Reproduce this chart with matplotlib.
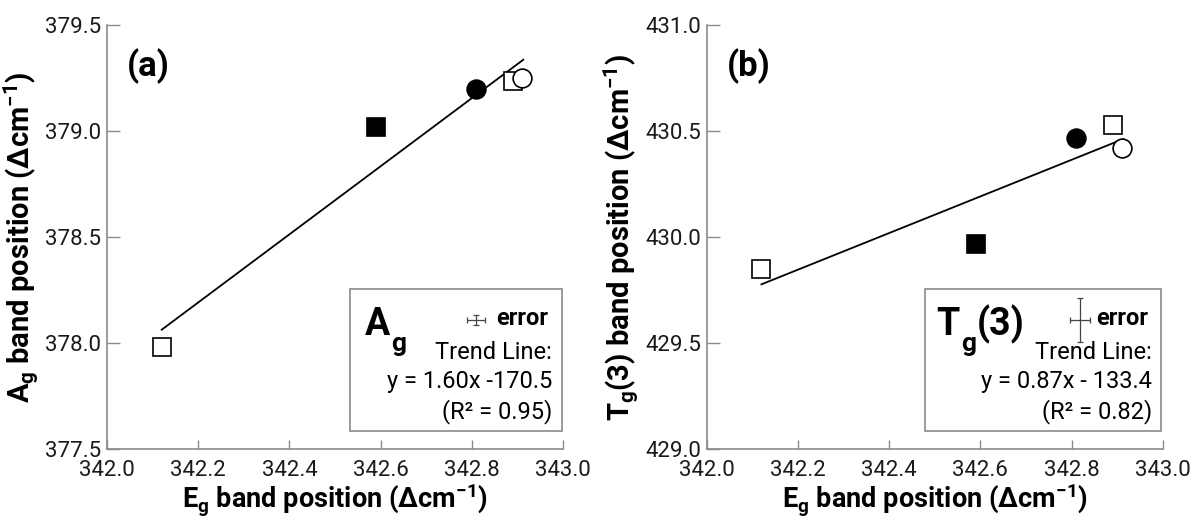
import numpy as np
import matplotlib
matplotlib.use('Agg')
import matplotlib.pyplot as plt
from matplotlib.patches import Rectangle

plt.rcParams['font.family'] = ['Roboto', 'DejaVu Sans']
plt.rcParams['mathtext.fontset'] = 'custom'
plt.rcParams['mathtext.rm'] = 'Roboto'
plt.rcParams['mathtext.bf'] = 'Roboto:bold'
plt.rcParams['mathtext.it'] = 'Roboto:italic'

# band positions (cm-1), one entry per sample
eg = [342.12, 342.59, 342.81, 342.89, 342.91]
ag = [377.98, 379.02, 379.20, 379.24, 379.25]
tg3 = [429.85, 429.97, 430.47, 430.53, 430.42]
markers = ['s', 's', 'o', 's', 'o']
filled = [False, True, True, False, False]

# error glyph shown in the boxes (centre, x error, y error)
err_a = (342.809, 378.11, 0.02, 0.024)
err_b = (342.819, 429.61, 0.022, 0.104)

xticks = [342.0, 342.2, 342.4, 342.6, 342.8, 343.0]
yticks_a = [377.5, 378.0, 378.5, 379.0, 379.5]
yticks_b = [429.0, 429.5, 430.0, 430.5, 431.0]

fig = plt.figure(figsize=(11.94, 5.18), dpi=100)
ax1 = fig.add_axes([0.0896, 0.1332, 0.3819, 0.8176])
ax2 = fig.add_axes([0.5919, 0.1332, 0.3819, 0.8176])

panels = [
    (ax1, ag, yticks_a, err_a, '(a)', r'$\mathbf{A_g}$ band position (Δcm$\mathbf{^{-1}}$)',
     'A', '', 'y = 1.60x -170.5', '(R² = 0.95)', 0.534),
    (ax2, tg3, yticks_b, err_b, '(b)', r'$\mathbf{T_g}$(3) band position (Δcm$\mathbf{^{-1}}$)',
     'T', '(3)', 'y = 0.87x - 133.4', '(R² = 0.82)', 0.479),
]

for ax, yv, yt, err, tag, ylab, big, big2, eq, r2, box_x0 in panels:
    # trend line
    k, b = np.polyfit(eg, yv, 1)
    xl = np.array([min(eg), max(eg) + 0.003])
    ax.plot(xl, k * xl + b, color='black', lw=1.3, zorder=2)

    for x, y, m, f in zip(eg, yv, markers, filled):
        ax.plot(x, y, marker=m, ms=13 if m == 's' else 13.5, mew=1.2,
                mec='black', mfc='black' if f else 'white', ls='none', zorder=3)

    ax.set_xlim(342.0, 343.0)
    ax.set_ylim(yt[0], yt[-1])
    ax.set_xticks(xticks)
    ax.set_yticks(yt)
    ax.set_xticklabels([f'{v:.1f}' for v in xticks])
    ax.set_yticklabels([f'{v:.1f}' for v in yt])
    for s in ['top', 'right']:
        ax.spines[s].set_visible(False)
    for s in ['left', 'bottom']:
        ax.spines[s].set_color('#8a8a8a')
        ax.spines[s].set_linewidth(1.2)
    ax.tick_params(axis='both', direction='in', color='#8a8a8a', width=1.0,
                   labelsize=16, labelcolor='#1a1a1a')
    ax.tick_params(axis='y', length=9.5, pad=4)
    ax.tick_params(axis='x', length=6.3, pad=8)

    ax.set_xlabel(r'$\mathbf{E_g}$ band position (Δcm$\mathbf{^{-1}}$)',
                  fontsize=19.5, fontweight='bold', labelpad=0)
    ax.set_ylabel(ylab, fontsize=21, fontweight='bold', labelpad=3)

    ax.text(0.044, 0.905, tag, transform=ax.transAxes, fontsize=25,
            fontweight='bold', va='center', ha='left')

    # info box
    ax.add_patch(Rectangle((box_x0, 0.043), 0.997 - box_x0, 0.334, transform=ax.transAxes,
                           fill=False, ec='#8a8a8a', lw=1.2, zorder=4))
    ax.errorbar(err[0], err[1], xerr=err[2], yerr=err[3], fmt='none',
                ecolor='#444444', elinewidth=0.9, capsize=2.5, capthick=0.9, zorder=5)
    ax.text(0.968, 0.307, 'error', transform=ax.transAxes, fontsize=17,
            fontweight='bold', ha='right', va='center')
    ax.text(0.976, 0.227, 'Trend Line:', transform=ax.transAxes, fontsize=17,
            ha='right', va='center')
    ax.text(0.976, 0.159, eq, transform=ax.transAxes, fontsize=17,
            ha='right', va='center')
    ax.text(0.976, 0.088, r2, transform=ax.transAxes, fontsize=17,
            ha='right', va='center')

    bx = 0.566 if big == 'A' else 0.504
    t = ax.text(bx, 0.269, big, transform=ax.transAxes, fontsize=27,
                fontweight='bold', ha='left', va='baseline')
    fig.canvas.draw()
    bb = t.get_window_extent().transformed(ax.transAxes.inverted())
    g = ax.text(bb.x1 + 0.002, 0.232, 'g', transform=ax.transAxes, fontsize=19,
                fontweight='bold', ha='left', va='baseline')
    if big2:
        fig.canvas.draw()
        gb = g.get_window_extent().transformed(ax.transAxes.inverted())
        ax.text(gb.x1 + 0.002, 0.269, big2, transform=ax.transAxes, fontsize=27,
                fontweight='bold', ha='left', va='baseline')

fig.savefig('out.png', dpi=100)
